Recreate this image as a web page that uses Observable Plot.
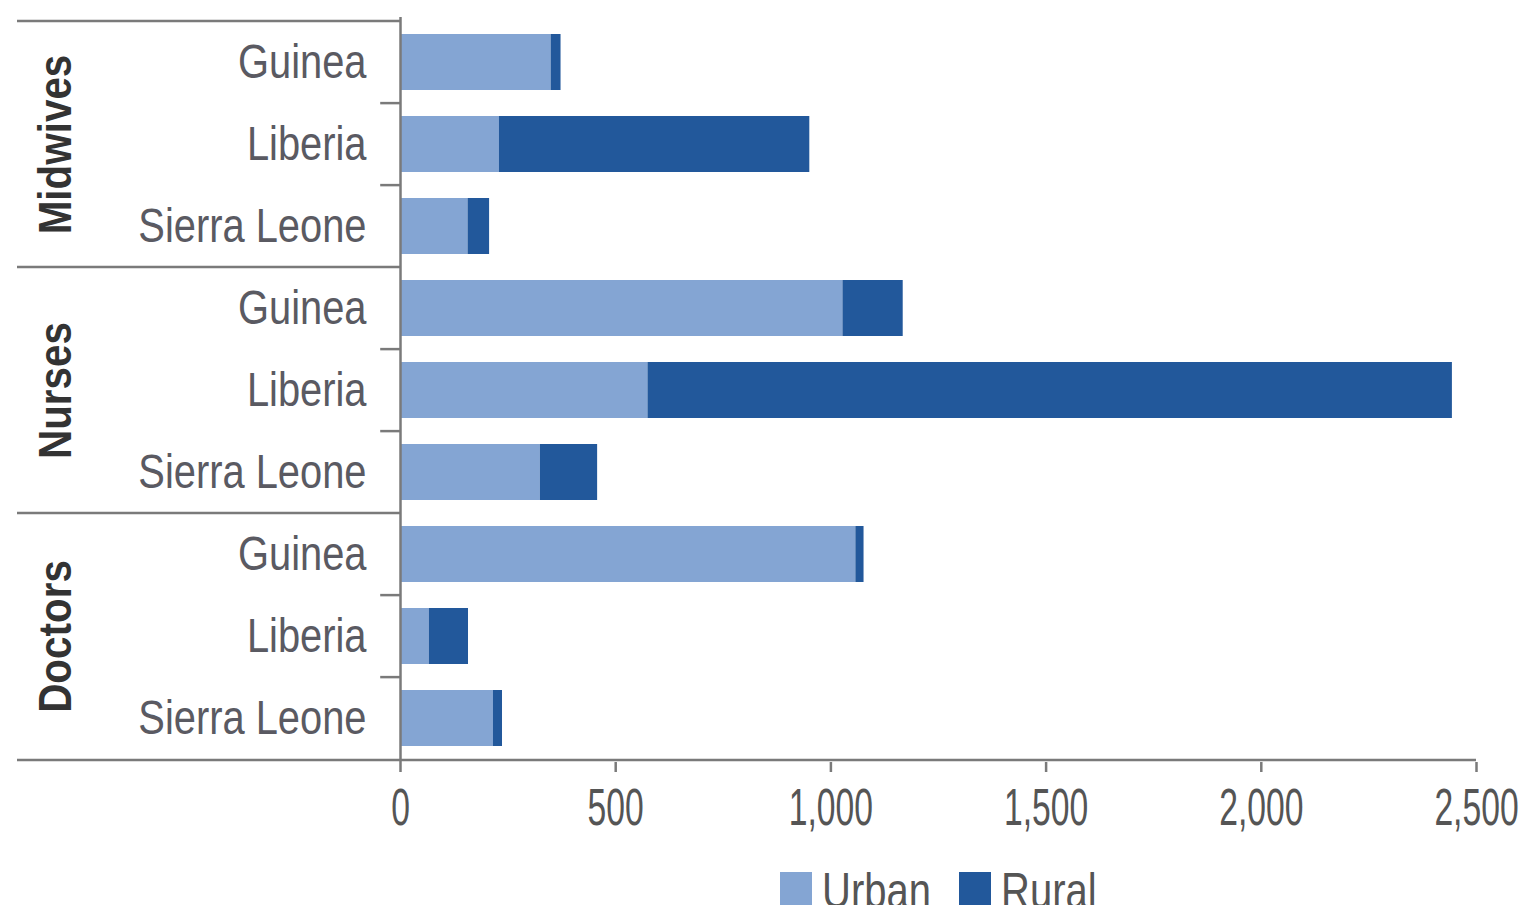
<!DOCTYPE html>
<html><head><meta charset="utf-8">
<script src="https://cdn.jsdelivr.net/npm/d3@7"></script>
<script src="https://cdn.jsdelivr.net/npm/@observablehq/plot@0.6"></script>
<style>
body{margin:0;background:#fff;overflow:hidden;width:1524px;height:905px;position:relative}
#chart svg{display:block}
#legend{position:absolute;left:400px;width:1076px;top:862px;display:flex;justify-content:center;align-items:flex-start;font-family:"Liberation Sans",Arial,sans-serif;font-size:50px;color:#555}
#legend .item{display:flex;align-items:flex-start;margin:0 14px}
#legend .sw{width:32px;height:40px;margin-top:10px;margin-right:10px;flex:none}
#legend .wrap{overflow:visible;height:50px;flex:none}
#legend .lab{display:inline-block;line-height:50px;transform-origin:0 0;white-space:nowrap}
</style></head><body>
<div id="chart"></div>
<div id="legend"></div>
<script>
const groups = ["Midwives", "Nurses", "Doctors"];
const countries = ["Guinea", "Liberia", "Sierra Leone"];
// values in group order, country order
const urban = [350, 230, 157, 1028, 575, 325, 1058, 67, 216];
const rural = [23, 721, 50, 140, 1869, 133, 19, 91, 21];
const seriesNames = ["Urban", "Rural"];
const seriesColors = ["#84a5d3", "#22589b"];
const xTicks = [0, 500, 1000, 1500, 2000, 2500];

const W = 1524, H = 862, mT = 17, mB = 100, mL = 17, mR = 48;
const zeroPx = 400;
const xMax = 2500;
const xMin = -xMax * (zeroPx - mL) / (W - mR - zeroPx);

const rows = [];
const keys = [];
groups.forEach((g, gi) => countries.forEach((c, ci) => {
  const k = g + "|" + c;
  keys.push(k);
  const i = gi * countries.length + ci;
  rows.push({key: k, group: g, country: c, series: "Urban", value: urban[i]});
  rows.push({key: k, group: g, country: c, series: "Rural", value: rural[i]});
}));
const labelRows = keys.map(k => ({key: k, country: k.split("|")[1], group: k.split("|")[0]}));
const step = (H - mT - mB) / keys.length;
const groupMid = groups.map(g => ({key: g + "|" + countries[1], group: g}));
const groupStarts = groups.map(g => ({key: g + "|" + countries[0]}));
const innerStarts = labelRows.filter(r => r.country !== countries[0]);

const font = `"Liberation Sans",Arial,sans-serif`;
const lineColor = "#7a7a7a";

const plot = Plot.plot({
  width: W, height: H,
  marginTop: mT, marginBottom: mB, marginLeft: mL, marginRight: mR,
  style: {fontFamily: font, background: "#fff"},
  x: {domain: [xMin, xMax], axis: null},
  y: {domain: keys, padding: 0, axis: null},
  color: {domain: seriesNames, range: seriesColors},
  marks: [
    Plot.barX(rows, {x: "value", y: "key", fill: "series", insetTop: 13, insetBottom: 13}),
    Plot.ruleX([0], {stroke: lineColor, strokeWidth: 2.5}),
    Plot.ruleY(groupStarts, {y: "key", x1: xMin, x2: 0, dy: -step / 2, stroke: lineColor, strokeWidth: 2.5}),
    Plot.ruleY(innerStarts, {y: "key", x1: -46, x2: 0, dy: -step / 2, stroke: lineColor, strokeWidth: 2.5}),
    Plot.ruleY([keys[keys.length - 1]], {y: d => d, x1: xMin, x2: xMax, dy: step / 2, stroke: lineColor, strokeWidth: 2.5}),
    Plot.axisX({ticks: xTicks, tickFormat: d3.format(","), label: null, tickSize: 10, tickPadding: 16, fontSize: 51, stroke: lineColor, strokeWidth: 2.5, fill: "#555", anchor: "bottom"}),
    Plot.text(labelRows, {y: "key", x: 0, text: "country", dx: -34, textAnchor: "end", fontSize: 48, fill: "#5a5a62"}),
    Plot.text(groupMid, {y: "key", frameAnchor: "left", dx: 38, textAnchor: "middle", text: "group", rotate: -90, fontSize: 47, fontWeight: "bold", fill: "#333"})
  ]
});
document.getElementById("chart").append(plot);

// condensed look: squeeze glyphs horizontally
function squeeze(sel, f) {
  plot.querySelectorAll(sel).forEach(t => {
    const L = t.getComputedTextLength();
    t.setAttribute("textLength", L * f);
    t.setAttribute("lengthAdjust", "spacingAndGlyphs");
  });
}
const textGroups = plot.querySelectorAll('g[aria-label="text"]');
textGroups[0].querySelectorAll("text").forEach(t => {
  const L = t.getComputedTextLength();
  t.setAttribute("textLength", L * 0.83);
  t.setAttribute("lengthAdjust", "spacingAndGlyphs");
});
textGroups[1].querySelectorAll("text").forEach(t => {
  const L = t.getComputedTextLength();
  t.setAttribute("textLength", L * 0.86);
  t.setAttribute("lengthAdjust", "spacingAndGlyphs");
});
squeeze('g[aria-label="x-axis tick label"] text', 0.66);

const legend = document.getElementById("legend");
seriesNames.forEach((s, i) => {
  const item = document.createElement("div");
  item.className = "item";
  const sw = document.createElement("span");
  sw.className = "sw";
  sw.style.background = seriesColors[i];
  const wrap = document.createElement("span");
  wrap.className = "wrap";
  const lab = document.createElement("span");
  lab.className = "lab";
  lab.textContent = s;
  wrap.append(lab);
  item.append(sw, wrap);
  legend.append(item);
});
legend.querySelectorAll(".lab").forEach(lab => {
  const w = lab.getBoundingClientRect().width;
  lab.style.transform = "scaleX(0.8)";
  lab.parentNode.style.width = (w * 0.8) + "px";
});
</script>
</body></html>
